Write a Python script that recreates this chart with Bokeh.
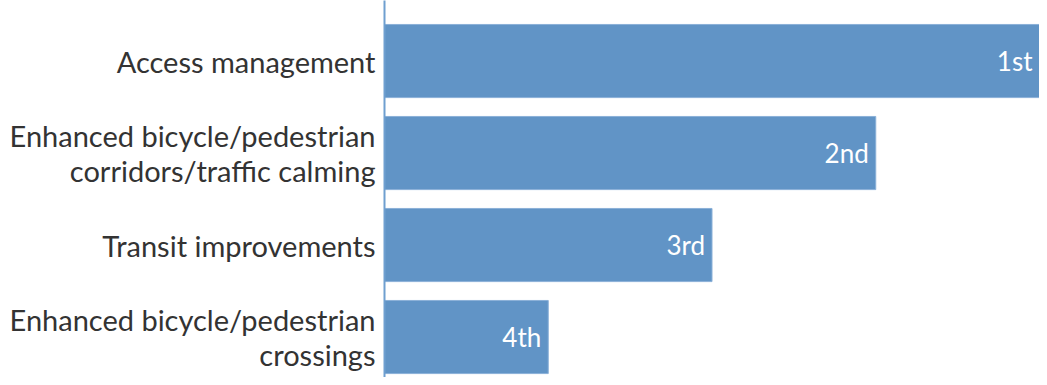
from bokeh.plotting import figure
from bokeh.models import Range1d, FixedTicker
from bokeh.embed import file_html
from bokeh.resources import INLINE
from bokeh.core.properties import value

categories = [
    "Access management",
    "Enhanced bicycle/pedestrian\ncorridors/traffic calming",
    "Transit improvements",
    "Enhanced bicycle/pedestrian\ncrossings",
]
scores = [4, 3, 2, 1]
rank_labels = ["1st", "2nd", "3rd", "4th"]

BAR = "#6194c6"
FONT = "Lato"

pos = list(range(len(categories)))

p = figure(
    width=1039, height=377,
    y_range=Range1d(3.44, -0.658),
    x_range=Range1d(0, 4),
    output_backend="svg", toolbar_location=None,
    min_border_left=384, min_border_right=0, min_border_top=0, min_border_bottom=0,
)
p.hbar(y=pos, right=scores, left=0, height=0.795,
       fill_color=BAR, line_color="#8ab0d8", line_width=1)
p.text(x=scores, y=pos, text=rank_labels, x_offset=-7,
       text_align="right", text_baseline="middle", text_color="white",
       text_font=value(FONT), text_font_size="26px")

p.xaxis.visible = False
p.xgrid.visible = False
p.ygrid.visible = False
p.outline_line_color = None
p.yaxis.ticker = FixedTicker(ticks=pos)
p.yaxis.major_label_overrides = {i: c for i, c in zip(pos, categories)}
p.yaxis.axis_line_color = "#6f9fd0"
p.yaxis.axis_line_width = 2
p.yaxis.major_tick_line_color = None
p.yaxis.minor_tick_line_color = None
p.yaxis.major_tick_out = 0
p.yaxis.major_tick_in = 0
p.yaxis.major_label_standoff = 9
p.yaxis.major_label_text_font = FONT
p.yaxis.major_label_text_font_size = "29px"
p.yaxis.major_label_text_line_height = 1.0
p.yaxis.major_label_text_color = "#333333"

open("out.html", "w").write(file_html(p, INLINE))
